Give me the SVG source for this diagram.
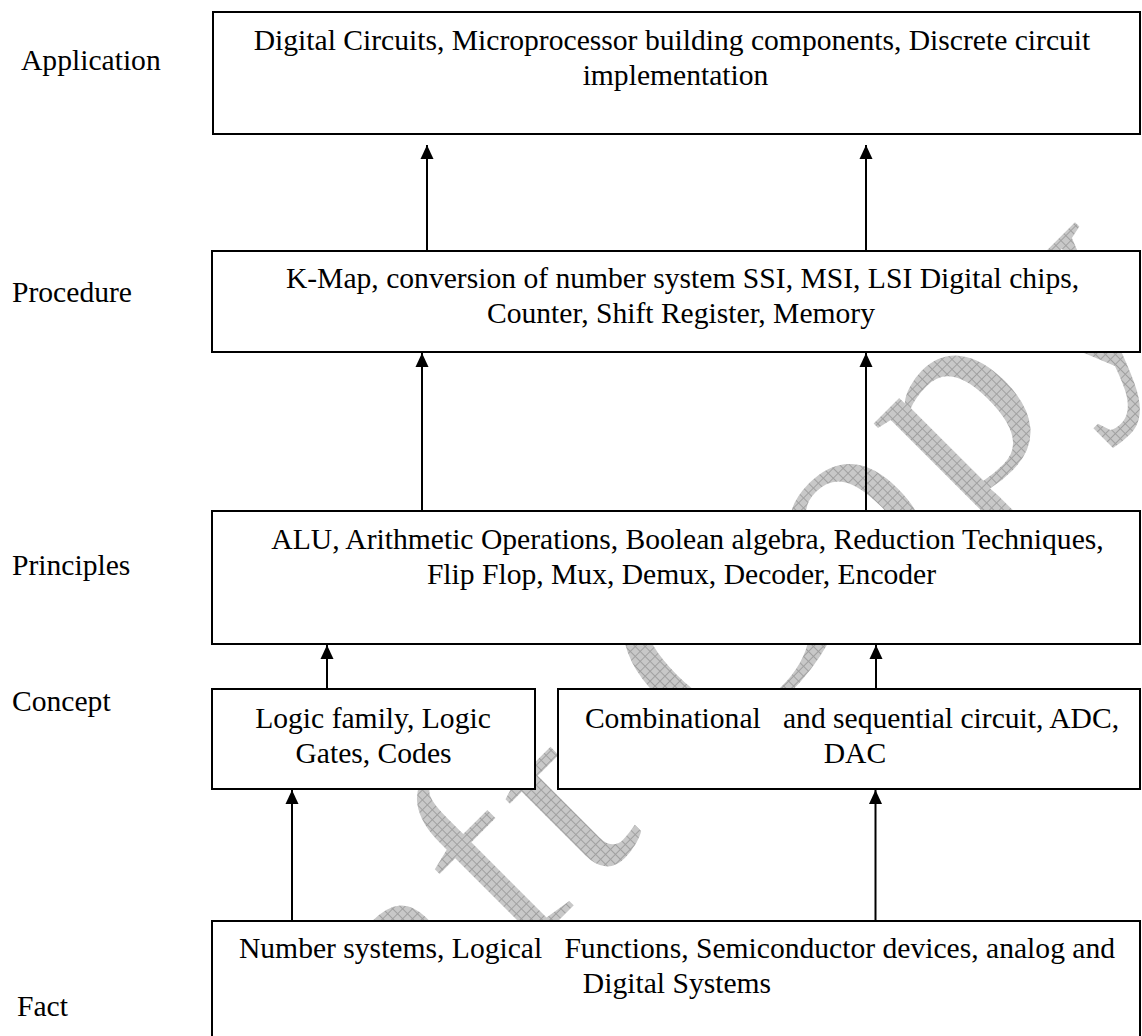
<svg xmlns="http://www.w3.org/2000/svg" width="1142" height="1036" viewBox="0 0 1142 1036">
  <style>
    .box { fill: #ffffff; stroke: #000000; stroke-width: 2; }
    .txt { font-family: "Liberation Serif", "Times New Roman", serif; font-size: 29.6px; fill: #000000; }
    .mid { text-anchor: middle; }
    .wire { fill: none; stroke: #000000; stroke-width: 2; marker-end: url(#head); }
    .mark { font-family: "Liberation Serif", "Times New Roman", serif; font-size: 280px; letter-spacing: 12px; fill: url(#hatch); }
  </style>
  <defs>
    <marker id="head" markerUnits="userSpaceOnUse" markerWidth="14" markerHeight="14" refX="14" refY="7" orient="auto">
      <path d="M0,0.5 L14,7 L0,13.5 z" fill="#000000"/>
    </marker>
    <pattern id="hatch" patternUnits="userSpaceOnUse" width="7" height="7">
      <rect width="7" height="7" fill="#c8c8c8"/>
      <path d="M0,0.5 H7 M0.5,0 V7" stroke="#a0a0a0" stroke-width="1"/>
    </pattern>
  </defs>

  <rect width="1142" height="1036" fill="#ffffff"/>

  <!-- background watermark -->
  <g id="watermark">
    <text class="mark" transform="translate(194,1285) rotate(-45)">Draft Copy</text>
  </g>

  <!-- level names on the left -->
  <g id="levels">
    <text class="txt" x="21" y="70">Application</text>
    <text class="txt" x="12" y="302">Procedure</text>
    <text class="txt" x="12" y="575">Principles</text>
    <text class="txt" x="12" y="711">Concept</text>
    <text class="txt" x="17" y="1016">Fact</text>
  </g>

  <!-- connectors -->
  <g id="connectors">
    <path class="wire" d="M427,251 V145"/>
    <path class="wire" d="M866,251 V145"/>
    <path class="wire" d="M422,511 V353"/>
    <path class="wire" d="M866,511 V353"/>
    <path class="wire" d="M327,689 V645"/>
    <path class="wire" d="M876,689 V645"/>
    <path class="wire" d="M292,921 V790"/>
    <path class="wire" d="M875.5,921 V790"/>
  </g>

  <g id="application">
    <rect class="box" x="213" y="12" width="927" height="122"/>
    <text class="txt mid" x="672" y="50">Digital Circuits, Microprocessor building components, Discrete circuit</text>
    <text class="txt mid" x="675.5" y="85">implementation</text>
  </g>

  <g id="procedure">
    <rect class="box" x="212" y="251" width="928" height="101"/>
    <text class="txt mid" x="682.5" y="288">K-Map, conversion of number system SSI, MSI, LSI Digital chips,</text>
    <text class="txt mid" x="681" y="323">Counter, Shift Register, Memory</text>
  </g>

  <g id="principles">
    <rect class="box" x="212" y="511" width="928" height="133"/>
    <text class="txt mid" x="687.5" y="549">ALU, Arithmetic Operations, Boolean algebra, Reduction Techniques,</text>
    <text class="txt mid" x="681.5" y="584">Flip Flop, Mux, Demux, Decoder, Encoder</text>
  </g>

  <g id="concept-logic">
    <rect class="box" x="212" y="689" width="323" height="100"/>
    <text class="txt mid" x="373" y="728">Logic family, Logic</text>
    <text class="txt mid" x="373.5" y="763">Gates, Codes</text>
  </g>

  <g id="concept-circuits">
    <rect class="box" x="558" y="689" width="582" height="100"/>
    <text class="txt mid" x="852" y="728" xml:space="preserve">Combinational   and sequential circuit, ADC,</text>
    <text class="txt mid" x="855" y="763">DAC</text>
  </g>

  <g id="fact">
    <rect class="box" x="212" y="921" width="928" height="130"/>
    <text class="txt mid" x="677" y="958" xml:space="preserve">Number systems, Logical   Functions, Semiconductor devices, analog and</text>
    <text class="txt mid" x="677" y="993">Digital Systems</text>
  </g>
</svg>
